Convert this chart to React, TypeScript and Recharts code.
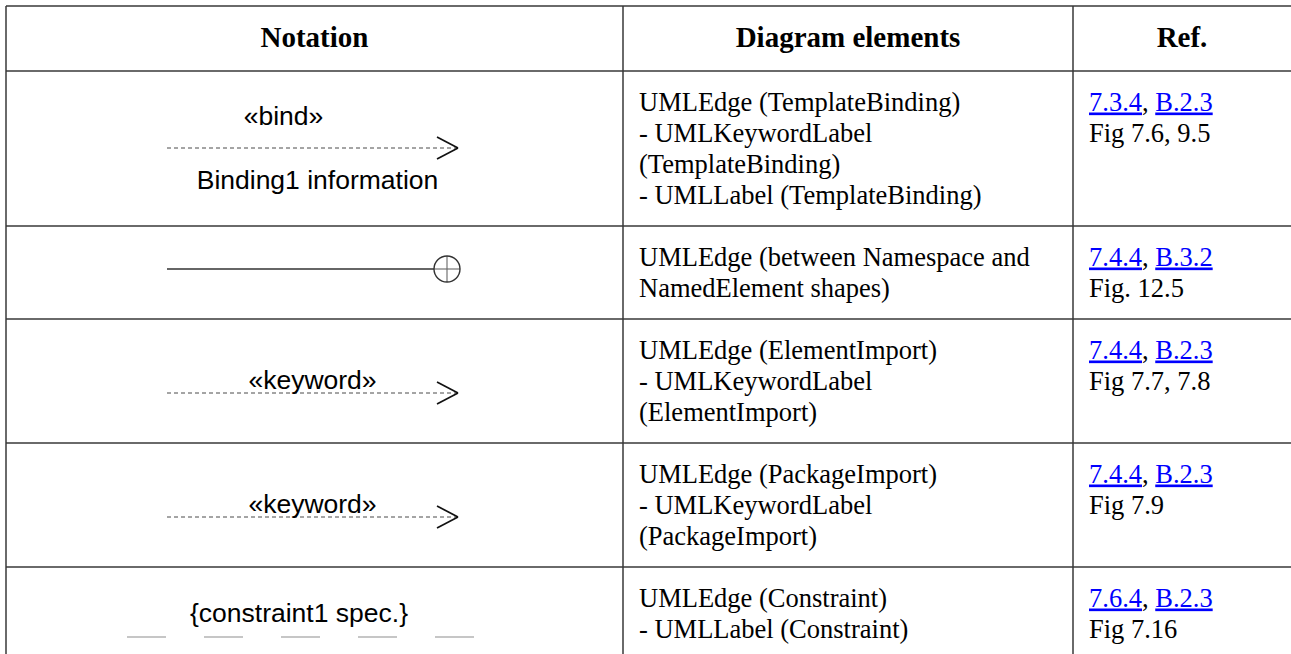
import { ComposedChart, ReferenceDot, ReferenceLine, Scatter, XAxis, YAxis } from 'recharts';

// table content
const headers = ['Notation', 'Diagram elements', 'Ref.'];
const notationKinds = ['binding', 'containment', 'keyword', 'keyword', 'constraint'];
const notationUpper = ['«bind»', '', '«keyword»', '«keyword»', '{constraint1 spec.}'];
const notationLower = ['Binding1 information', '', '', '', ''];
const diagramElements = [
  ['UMLEdge (TemplateBinding)', '- UMLKeywordLabel', '(TemplateBinding)', '- UMLLabel (TemplateBinding)'],
  ['UMLEdge (between Namespace and', 'NamedElement shapes)'],
  ['UMLEdge (ElementImport)', '- UMLKeywordLabel', '(ElementImport)'],
  ['UMLEdge (PackageImport)', '- UMLKeywordLabel', '(PackageImport)'],
  ['UMLEdge (Constraint)', '- UMLLabel (Constraint)'],
];
const refSections = [
  ['7.3.4', 'B.2.3'],
  ['7.4.4', 'B.3.2'],
  ['7.4.4', 'B.2.3'],
  ['7.4.4', 'B.2.3'],
  ['7.6.4', 'B.2.3'],
];
const refFigures = ['Fig 7.6, 9.5', 'Fig. 12.5', 'Fig 7.7, 7.8', 'Fig 7.9', 'Fig 7.16'];

// layout (px)
const WIDTH = 1291;
const HEIGHT = 654;
const colEdges = [6, 623, 1073, 1291];
const tableTop = 6;
const headerBottom = 71;
const headerBaseline = 47;
const lineHeight = 31;
const cellPadX = 16;
const firstBaseline = 39.5;
const edgeLeft = 167;
const edgeTip = 458;

const SERIF = '"Liberation Serif", "Times New Roman", serif';
const SANS = '"Liberation Sans", Arial, sans-serif';

const textStyles: Record<string, any> = {
  header: { fontFamily: SERIF, fontSize: 29, fontWeight: 700, anchor: 'middle' },
  cell: { fontFamily: SERIF, fontSize: 26.5, fontWeight: 400, anchor: 'start' },
  notation: { fontFamily: SANS, fontSize: 26.5, fontWeight: 400, anchor: 'middle' },
};

const lineStyles: Record<string, any> = {
  grid: { stroke: '#383838', strokeWidth: 1.5 },
  dashed: { stroke: '#4a4a4a', strokeWidth: 1, strokeDasharray: '4 3' },
  head: { stroke: '#111', strokeWidth: 1.7 },
  solid: { stroke: '#333', strokeWidth: 1.5 },
  cross: { stroke: '#666', strokeWidth: 1.1 },
  constraint: { stroke: '#b4b4b4', strokeWidth: 1.5, strokeDasharray: '39 38' },
};

type Seg = { x1: number; y1: number; x2: number; y2: number; kind: string };
type Txt = { x: number; y: number; text?: string; parts?: { text: string; link?: boolean }[]; role: string };

const rowTops: number[] = [];
let cursor = headerBottom;
diagramElements.forEach((lines) => {
  rowTops.push(cursor);
  cursor += lineHeight * (lines.length + 1);
});

const segments: Seg[] = [];
const texts: Txt[] = [];
const circles: { x: number; y: number; r: number }[] = [];

// grid
[tableTop, ...rowTops].forEach((y) => segments.push({ x1: colEdges[0], y1: y, x2: WIDTH, y2: y, kind: 'grid' }));
colEdges.slice(0, 3).forEach((x) => segments.push({ x1: x, y1: tableTop, x2: x, y2: HEIGHT, kind: 'grid' }));

headers.forEach((h, i) => {
  texts.push({ x: (colEdges[i] + colEdges[i + 1]) / 2, y: headerBaseline, text: h, role: 'header' });
});

const addArrow = (y: number) => {
  segments.push({ x1: edgeLeft, y1: y, x2: edgeTip, y2: y, kind: 'dashed' });
  segments.push({ x1: edgeTip - 21, y1: y - 11, x2: edgeTip, y2: y, kind: 'head' });
  segments.push({ x1: edgeTip - 21, y1: y + 11, x2: edgeTip, y2: y, kind: 'head' });
};

rowTops.forEach((top, r) => {
  diagramElements[r].forEach((line, i) => {
    texts.push({ x: colEdges[1] + cellPadX, y: top + firstBaseline + lineHeight * i, text: line, role: 'cell' });
  });
  texts.push({
    x: colEdges[2] + cellPadX,
    y: top + firstBaseline,
    parts: [{ text: refSections[r][0], link: true }, { text: ', ' }, { text: refSections[r][1], link: true }],
    role: 'cell',
  });
  texts.push({ x: colEdges[2] + cellPadX, y: top + firstBaseline + lineHeight, text: refFigures[r], role: 'cell' });

  const kind = notationKinds[r];
  if (kind === 'binding') {
    texts.push({ x: 283.5, y: top + 54, text: notationUpper[r], role: 'notation' });
    addArrow(top + 77);
    texts.push({ x: 317.5, y: top + 118, text: notationLower[r], role: 'notation' });
  } else if (kind === 'containment') {
    const y = top + 43;
    const cx = 447;
    const rad = 13;
    segments.push({ x1: edgeLeft, y1: y, x2: cx - rad, y2: y, kind: 'solid' });
    segments.push({ x1: cx - rad, y1: y, x2: cx + rad, y2: y, kind: 'cross' });
    segments.push({ x1: cx, y1: y - rad, x2: cx, y2: y + rad, kind: 'cross' });
    circles.push({ x: cx, y, r: rad });
  } else if (kind === 'keyword') {
    texts.push({ x: 312.5, y: top + 70, text: notationUpper[r], role: 'notation' });
    addArrow(top + 74);
  } else if (kind === 'constraint') {
    texts.push({ x: 299, y: top + 55, text: notationUpper[r], role: 'notation' });
    segments.push({ x1: 127, y1: top + 70, x2: 474, y2: top + 70, kind: 'constraint' });
  }
});

const TextMark = (props: any) => {
  const { cx, cy, payload } = props;
  const st = textStyles[payload.role];
  return (
    <text
      x={cx}
      y={cy}
      textAnchor={st.anchor}
      fontFamily={st.fontFamily}
      fontSize={st.fontSize}
      fontWeight={st.fontWeight}
      fill="#000"
      style={{ whiteSpace: 'pre' }}
    >
      {payload.parts
        ? payload.parts.map((p: any, i: number) => (
            <tspan key={i} fill={p.link ? '#0000ff' : '#000'} style={p.link ? { textDecoration: 'underline' } : undefined}>
              {p.text}
            </tspan>
          ))
        : payload.text}
    </text>
  );
};

const App = () => {
  return (
    <div style={{ position: 'absolute', left: 0, top: 0, background: '#fff' }}>
      <ComposedChart width={WIDTH} height={HEIGHT} margin={{ top: 0, right: 0, bottom: 0, left: 0 }}>
        <XAxis type="number" dataKey="x" domain={[0, WIDTH]} allowDataOverflow hide />
        <YAxis type="number" dataKey="y" domain={[0, HEIGHT]} allowDataOverflow reversed hide />
        {segments.map((s, i) => (
          <ReferenceLine
            key={i}
            segment={[
              { x: s.x1, y: s.y1 },
              { x: s.x2, y: s.y2 },
            ]}
            ifOverflow="visible"
            {...lineStyles[s.kind]}
          />
        ))}
        {circles.map((c, i) => (
          <ReferenceDot key={i} x={c.x} y={c.y} r={c.r} fill="none" stroke="#333" strokeWidth={1.4} ifOverflow="visible" />
        ))}
        <Scatter data={texts} shape={<TextMark />} isAnimationActive={false} />
      </ComposedChart>
    </div>
  );
};

export default App;
